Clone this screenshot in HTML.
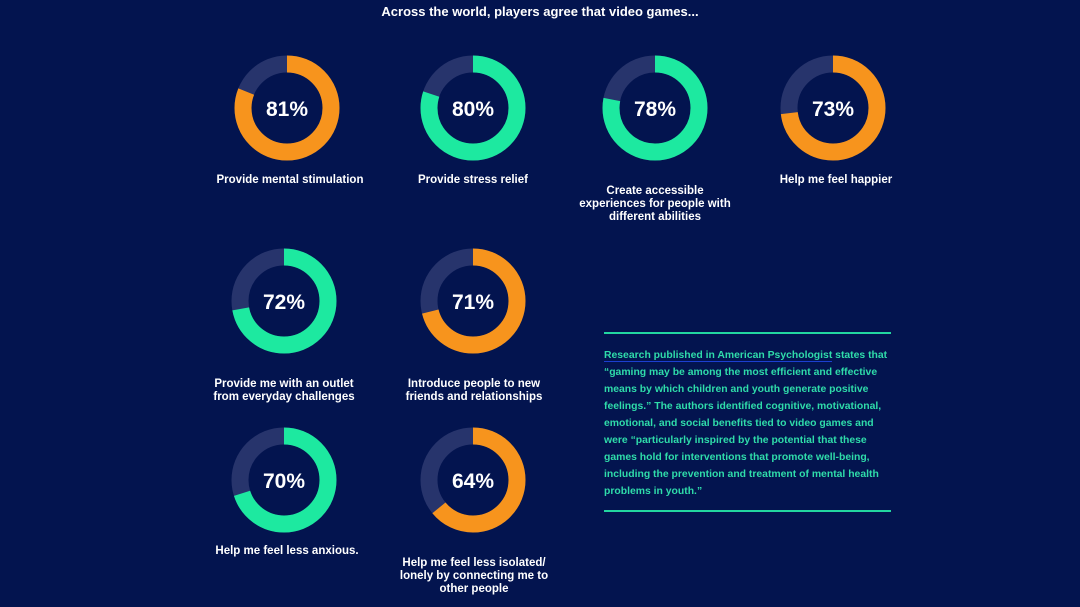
<!DOCTYPE html>
<html><head><style>
body{margin:0;width:1080px;height:607px;background:#03144f;overflow:hidden;font-family:"Liberation Sans",sans-serif;position:relative;color:#fff}
.t{position:absolute;font-weight:bold;text-align:center;font-size:11.5px;line-height:13px;width:200px;white-space:nowrap}
.p{position:absolute;font-weight:bold;font-size:21px;width:100px;text-align:center;line-height:24px}
.box{position:absolute;left:604px;top:332px;width:287px;height:176px;border-top:2px solid #22d6a0;border-bottom:2px solid #22d6a0}
.box div{margin-top:13px;color:#2fdcaa;font-size:10.4px;line-height:17px;font-weight:bold;white-space:nowrap}
</style></head><body>
<div class="t" style="left:340px;top:5px;width:400px;font-size:13px">Across the world, players agree that video games...</div>
<svg width="1080" height="607" style="position:absolute;left:0;top:0">
<g fill="none" stroke-width="17">
<circle cx="287" cy="108" r="44" stroke="#27346c"/><circle cx="287" cy="108" r="44" stroke="#f7941d" stroke-dasharray="223.9 300" transform="rotate(-90 287 108)"/>
<circle cx="473" cy="108" r="44" stroke="#27346c"/><circle cx="473" cy="108" r="44" stroke="#1de9a0" stroke-dasharray="221.2 300" transform="rotate(-90 473 108)"/>
<circle cx="655" cy="108" r="44" stroke="#27346c"/><circle cx="655" cy="108" r="44" stroke="#1de9a0" stroke-dasharray="215.6 300" transform="rotate(-90 655 108)"/>
<circle cx="833" cy="108" r="44" stroke="#27346c"/><circle cx="833" cy="108" r="44" stroke="#f7941d" stroke-dasharray="201.8 300" transform="rotate(-90 833 108)"/>
<circle cx="284" cy="301" r="44" stroke="#27346c"/><circle cx="284" cy="301" r="44" stroke="#1de9a0" stroke-dasharray="199.1 300" transform="rotate(-90 284 301)"/>
<circle cx="473" cy="301" r="44" stroke="#27346c"/><circle cx="473" cy="301" r="44" stroke="#f7941d" stroke-dasharray="196.3 300" transform="rotate(-90 473 301)"/>
<circle cx="284" cy="480" r="44" stroke="#27346c"/><circle cx="284" cy="480" r="44" stroke="#1de9a0" stroke-dasharray="193.5 300" transform="rotate(-90 284 480)"/>
<circle cx="473" cy="480" r="44" stroke="#27346c"/><circle cx="473" cy="480" r="44" stroke="#f7941d" stroke-dasharray="176.9 300" transform="rotate(-90 473 480)"/>
</g></svg>
<div class="p" style="left:237px;top:98px">81%</div>
<div class="p" style="left:423px;top:98px">80%</div>
<div class="p" style="left:605px;top:98px">78%</div>
<div class="p" style="left:783px;top:98px">73%</div>
<div class="p" style="left:234px;top:291px">72%</div>
<div class="p" style="left:423px;top:291px">71%</div>
<div class="p" style="left:234px;top:470px">70%</div>
<div class="p" style="left:423px;top:470px">64%</div>
<div class="t" style="left:190px;top:174px">Provide mental stimulation</div>
<div class="t" style="left:373px;top:174px">Provide stress relief</div>
<div class="t" style="left:555px;top:185px;width:200px">Create accessible<br>experiences for people with<br>different abilities</div>
<div class="t" style="left:736px;top:174px">Help me feel happier</div>
<div class="t" style="left:184px;top:378px">Provide me with an outlet<br>from everyday challenges</div>
<div class="t" style="left:374px;top:378px">Introduce people to new<br>friends and relationships</div>
<div class="t" style="left:187px;top:545px">Help me feel less anxious.</div>
<div class="t" style="left:374px;top:557px">Help me feel less isolated/<br>lonely by connecting me to<br>other people</div>
<div class="box"><div><span style="border-bottom:1px solid #1b3fd0">Research published in American Psychologist</span> states that<br>“gaming may be among the most efficient and effective<br>means by which children and youth generate positive<br>feelings.” The authors identified cognitive, motivational,<br>emotional, and social benefits tied to video games and<br>were “particularly inspired by the potential that these<br>games hold for interventions that promote well-being,<br>including the prevention and treatment of mental health<br>problems in youth.”</div></div>
</body></html>
